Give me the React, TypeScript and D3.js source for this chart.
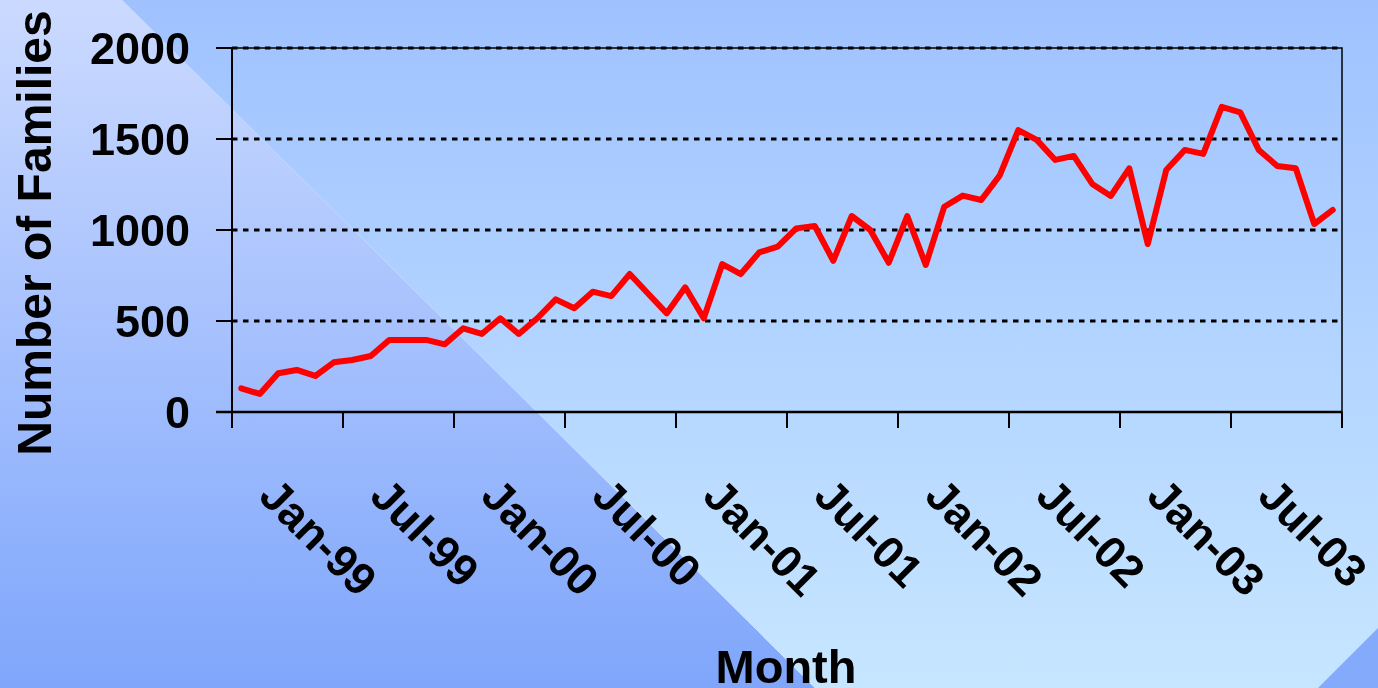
import React from "react";
import * as d3 from "d3";

const monthNames = ["Jan", "Feb", "Mar", "Apr", "May", "Jun", "Jul", "Aug", "Sep", "Oct", "Nov", "Dec"];
const years = ["99", "00", "01", "02", "03"];
const months: string[] = years.flatMap((y) => monthNames.map((m) => `${m}-${y}`));

const families: number[] = [
  130, 99, 213, 231, 198, 273, 286, 308, 396, 396,
  396, 372, 460, 429, 515, 429, 515, 619, 570, 661,
  637, 758, 650, 542, 685, 515, 813, 758, 877, 908,
  1009, 1022, 831, 1077, 1000, 820, 1077, 808, 1128, 1189,
  1165, 1300, 1549, 1495, 1385, 1407, 1253, 1187, 1339, 923,
  1330, 1440, 1418, 1677, 1646, 1440, 1352, 1339, 1033, 1110,
];

const yTicks: number[] = [0, 500, 1000, 1500, 2000];
const xTickLabels: string[] = ["Jan-99", "Jul-99", "Jan-00", "Jul-00", "Jan-01", "Jul-01", "Jan-02", "Jul-02", "Jan-03", "Jul-03"];

const W = 1378;
const H = 688;
const L = 232, R = 1342, T = 48, B = 412;
const FONT = "'Liberation Sans', Arial, Helvetica, sans-serif";

export default function App() {
  const x = d3.scaleBand<string>().domain(months).range([L, R]).paddingInner(0).paddingOuter(0);
  const y = d3.scaleLinear().domain([0, 2000]).range([B, T]);
  const line = d3
    .line<number>()
    .x((_, i) => (x(months[i]) as number) + x.bandwidth() / 2)
    .y((d) => y(d));

  const tickIdx = d3.range(0, months.length + 1, 6);
  const tickX = (i: number) => (i < months.length ? (x(months[i]) as number) : R);

  return (
    <svg
      width={W}
      height={H}
      style={{ position: "fixed", left: 0, top: 0, display: "block" }}
      fontFamily={FONT}
    >
      <defs>
        <linearGradient id="gl" x1="0" y1="0" x2="0" y2="1">
          <stop offset="0" stopColor="#cbdaff" />
          <stop offset="1" stopColor="#7fa6fb" />
        </linearGradient>
        <linearGradient id="gr" x1="0" y1="0" x2="0" y2="1">
          <stop offset="0" stopColor="#9fc2ff" />
          <stop offset="1" stopColor="#c6e6ff" />
        </linearGradient>
      </defs>
      <polygon points={`0,0 122,0 815,${H} 0,${H}`} fill="url(#gl)" />
      <polygon points={`122,0 ${W},0 ${W},${H} 815,${H}`} fill="url(#gr)" />
      <polygon points={`${W},628 ${W},${H} 1318,${H}`} fill="#84aafb" />

      {/* gridlines */}
      {yTicks.filter((t) => t > 0).map((t) => (
        <line key={t} x1={L} x2={R} y1={y(t)} y2={y(t)} stroke="#000" strokeWidth={2.8} strokeDasharray="5.5 5.5" />
      ))}
      {/* plot border */}
      <rect x={L} y={T} width={R - L} height={B - T} fill="none" stroke="#000" strokeWidth={1.5} />

      {/* y axis */}
      <line x1={L} x2={L} y1={T} y2={B + 16} stroke="#000" strokeWidth={2} />
      {yTicks.map((t) => (
        <g key={t}>
          <line x1={L - 16} x2={L} y1={y(t)} y2={y(t)} stroke="#000" strokeWidth={2} />
          <text x={190} y={y(t) + 16} textAnchor="end" fontSize={45} fontWeight="bold">
            {t}
          </text>
        </g>
      ))}

      {/* x axis */}
      <line x1={L - 16} x2={R} y1={B} y2={B} stroke="#000" strokeWidth={2.5} />
      {tickIdx.map((i) => (
        <line key={i} x1={tickX(i)} x2={tickX(i)} y1={B} y2={B + 16} stroke="#000" strokeWidth={2} />
      ))}
      {xTickLabels.map((lab, k) => {
        const ax = tickX(k * 6) + 25;
        const ay = 498;
        return (
          <text
            key={lab}
            x={ax}
            y={ay}
            transform={`rotate(45 ${ax} ${ay})`}
            fontSize={45}
            fontWeight="bold"
          >
            {lab}
          </text>
        );
      })}

      {/* data line */}
      <path d={line(families) || ""} fill="none" stroke="#ff0000" strokeWidth={6} strokeLinejoin="round" strokeLinecap="round" />

      {/* axis titles */}
      <text
        x={0}
        y={0}
        transform={`translate(51 233) rotate(-90)`}
        textAnchor="middle"
        fontSize={48}
        fontWeight="bold"
      >
        Number of Families
      </text>
      <text x={786} y={683} textAnchor="middle" fontSize={47} fontWeight="bold">
        Month
      </text>
    </svg>
  );
}
